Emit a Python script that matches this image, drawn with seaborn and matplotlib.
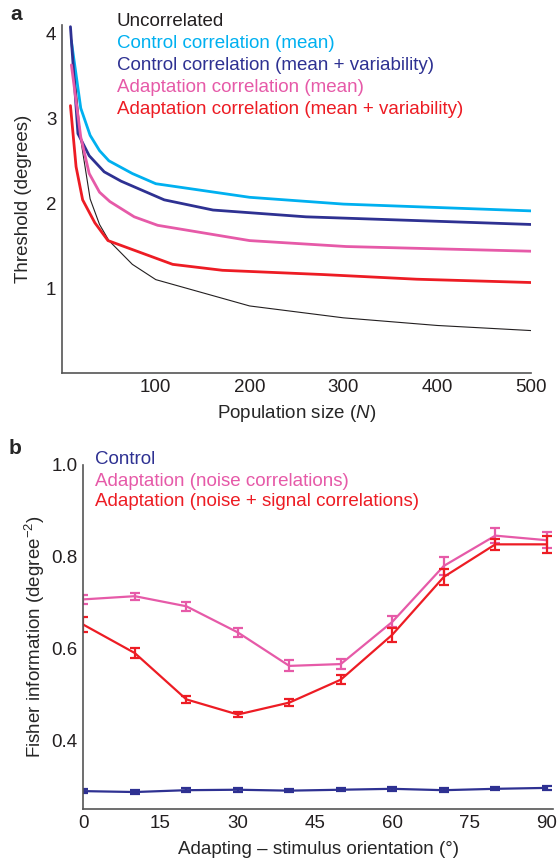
import pandas as pd
import matplotlib
matplotlib.use('Agg')
import matplotlib.pyplot as plt
import seaborn as sns

# panel a: threshold vs population size, one (N, threshold) list per curve
uncorr_n = [10, 20, 30, 40, 50, 75, 100, 200, 300, 400, 500]
uncorr_thr = [3.95, 2.75, 2.05, 1.75, 1.56, 1.28, 1.10, 0.79, 0.65, 0.56, 0.50]

ctrl_mean_n = [10, 20, 30, 40, 50, 75, 100, 200, 300, 400, 500]
ctrl_mean_thr = [3.91, 3.12, 2.80, 2.62, 2.50, 2.35, 2.23, 2.07, 1.99, 1.95, 1.91]

ctrl_var_n = [9, 17, 29, 45, 63, 109, 161, 260, 500]
ctrl_var_thr = [4.08, 2.82, 2.56, 2.37, 2.26, 2.04, 1.92, 1.84, 1.75]

adapt_mean_n = [10, 20, 29, 40, 51, 77, 102, 200, 303, 500]
adapt_mean_thr = [3.63, 2.78, 2.35, 2.13, 2.02, 1.84, 1.74, 1.56, 1.49, 1.435]

adapt_var_n = [9, 15, 22, 35, 49, 118, 171, 278, 378, 500]
adapt_var_thr = [3.15, 2.43, 2.04, 1.77, 1.56, 1.28, 1.21, 1.16, 1.105, 1.066]

# panel b: Fisher information vs orientation difference
orient = [0, 10, 20, 30, 40, 50, 60, 70, 80, 90]
fi_control = [0.289, 0.287, 0.291, 0.292, 0.290, 0.292, 0.294, 0.291, 0.294, 0.296]
fi_control_err = [0.004, 0.004, 0.005, 0.004, 0.004, 0.003, 0.004, 0.004, 0.003, 0.004]
fi_noise = [0.707, 0.714, 0.692, 0.635, 0.562, 0.566, 0.658, 0.780, 0.846, 0.836]
fi_noise_err = [0.010, 0.008, 0.010, 0.010, 0.012, 0.010, 0.012, 0.020, 0.017, 0.017]
fi_signal = [0.652, 0.590, 0.489, 0.456, 0.482, 0.532, 0.630, 0.756, 0.827, 0.827]
fi_signal_err = [0.017, 0.010, 0.008, 0.006, 0.008, 0.010, 0.015, 0.018, 0.012, 0.018]

BLACK = '#231f20'
CYAN = '#00b0f0'
NAVY = '#2e3192'
PINK = '#e65aa8'
RED = '#ed1c24'

sns.set_style('white')
plt.rcParams['font.family'] = ['Liberation Sans', 'DejaVu Sans']
plt.rcParams['mathtext.fontset'] = 'custom'
plt.rcParams['mathtext.rm'] = 'Liberation Sans'
plt.rcParams['mathtext.it'] = 'Liberation Sans:italic'
plt.rcParams['font.size'] = 13.5

W, H = 558, 860
fig = plt.figure(figsize=(W / 100, H / 100), dpi=100)


def px_box(left, top, right, bottom):
    return [left / W, 1 - bottom / H, (right - left) / W, (bottom - top) / H]


def style_axes(ax):
    for side in ['top', 'right']:
        ax.spines[side].set_visible(False)
    for side in ['left', 'bottom']:
        ax.spines[side].set_color('#555555')
        ax.spines[side].set_linewidth(1.2)
    ax.tick_params(direction='in', length=3, width=1, colors='#555555',
                   labelcolor='#231f20', labelsize=13.5, pad=4)


# ---- panel a
ax1 = fig.add_axes(px_box(62, 25, 531, 373))
curves_a = [
    ('Uncorrelated', uncorr_n, uncorr_thr, BLACK, 0.8),
    ('Control correlation (mean)', ctrl_mean_n, ctrl_mean_thr, CYAN, 2.0),
    ('Control correlation (mean + variability)', ctrl_var_n, ctrl_var_thr, NAVY, 2.0),
    ('Adaptation correlation (mean)', adapt_mean_n, adapt_mean_thr, PINK, 2.0),
    ('Adaptation correlation (mean + variability)', adapt_var_n, adapt_var_thr, RED, 2.0),
]
for i, (name, n, thr, col, lw) in enumerate(curves_a):
    df = pd.DataFrame({'N': n, 'thr': thr})
    sns.lineplot(data=df, x='N', y='thr', ax=ax1, color=col, linewidth=lw,
                 estimator=None, sort=False)
    fig.text(117 / W, 1 - (21 + 22.2 * i) / H, name, color=col, fontsize=13.5, va='center')

ax1.set_xlim(0, 500)
ax1.set_ylim(0, 4.1)
ax1.set_xticks([0, 100, 200, 300, 400, 500])
ax1.set_xticklabels(['', '100', '200', '300', '400', '500'])
ax1.set_yticks([1, 2, 3, 4])
ax1.set_xlabel(r'Population size ($\it{N}$)', fontsize=13.5, labelpad=5)
ax1.set_ylabel('Threshold (degrees)', fontsize=13.5, labelpad=10)
style_axes(ax1)
fig.text(10 / W, 1 - 15 / H, 'a', fontsize=15, fontweight='bold', va='center')

# ---- panel b
ax2 = fig.add_axes(px_box(83.3, 465, 553, 809))
series_b = [
    ('Control', fi_control, fi_control_err, NAVY),
    ('Adaptation (noise correlations)', fi_noise, fi_noise_err, PINK),
    ('Adaptation (noise + signal correlations)', fi_signal, fi_signal_err, RED),
]
for i, (name, vals, err, col) in enumerate(series_b):
    df = pd.DataFrame({'ori': orient, 'fi': vals})
    sns.lineplot(data=df, x='ori', y='fi', ax=ax2, color=col, linewidth=1.6,
                 estimator=None)
    ax2.errorbar(orient, vals, yerr=err, fmt='none', ecolor=col, elinewidth=1.6,
                 capsize=3.5, capthick=1.6)
    fig.text(95 / W, 1 - (460 + 21 * i) / H, name, color=col, fontsize=13.5, va='center')

ax2.set_xlim(0, 91.2)
ax2.set_ylim(0.25, 1.0)
ax2.set_xticks([0, 15, 30, 45, 60, 75, 90])
ax2.set_yticks([0.4, 0.6, 0.8, 1.0])
ax2.set_yticklabels(['0.4', '0.6', '0.8', '1.0'])
ax2.set_xlabel('Adapting \u2013 stimulus orientation (\u00b0)', fontsize=13.5, labelpad=7)
ax2.set_ylabel(r'Fisher information (degree$^{\mathregular{-2}}$)', fontsize=13.5, labelpad=3)
style_axes(ax2)
fig.text(9 / W, 1 - 449 / H, 'b', fontsize=15, fontweight='bold', va='center')

fig.savefig('out.png', dpi=100)
